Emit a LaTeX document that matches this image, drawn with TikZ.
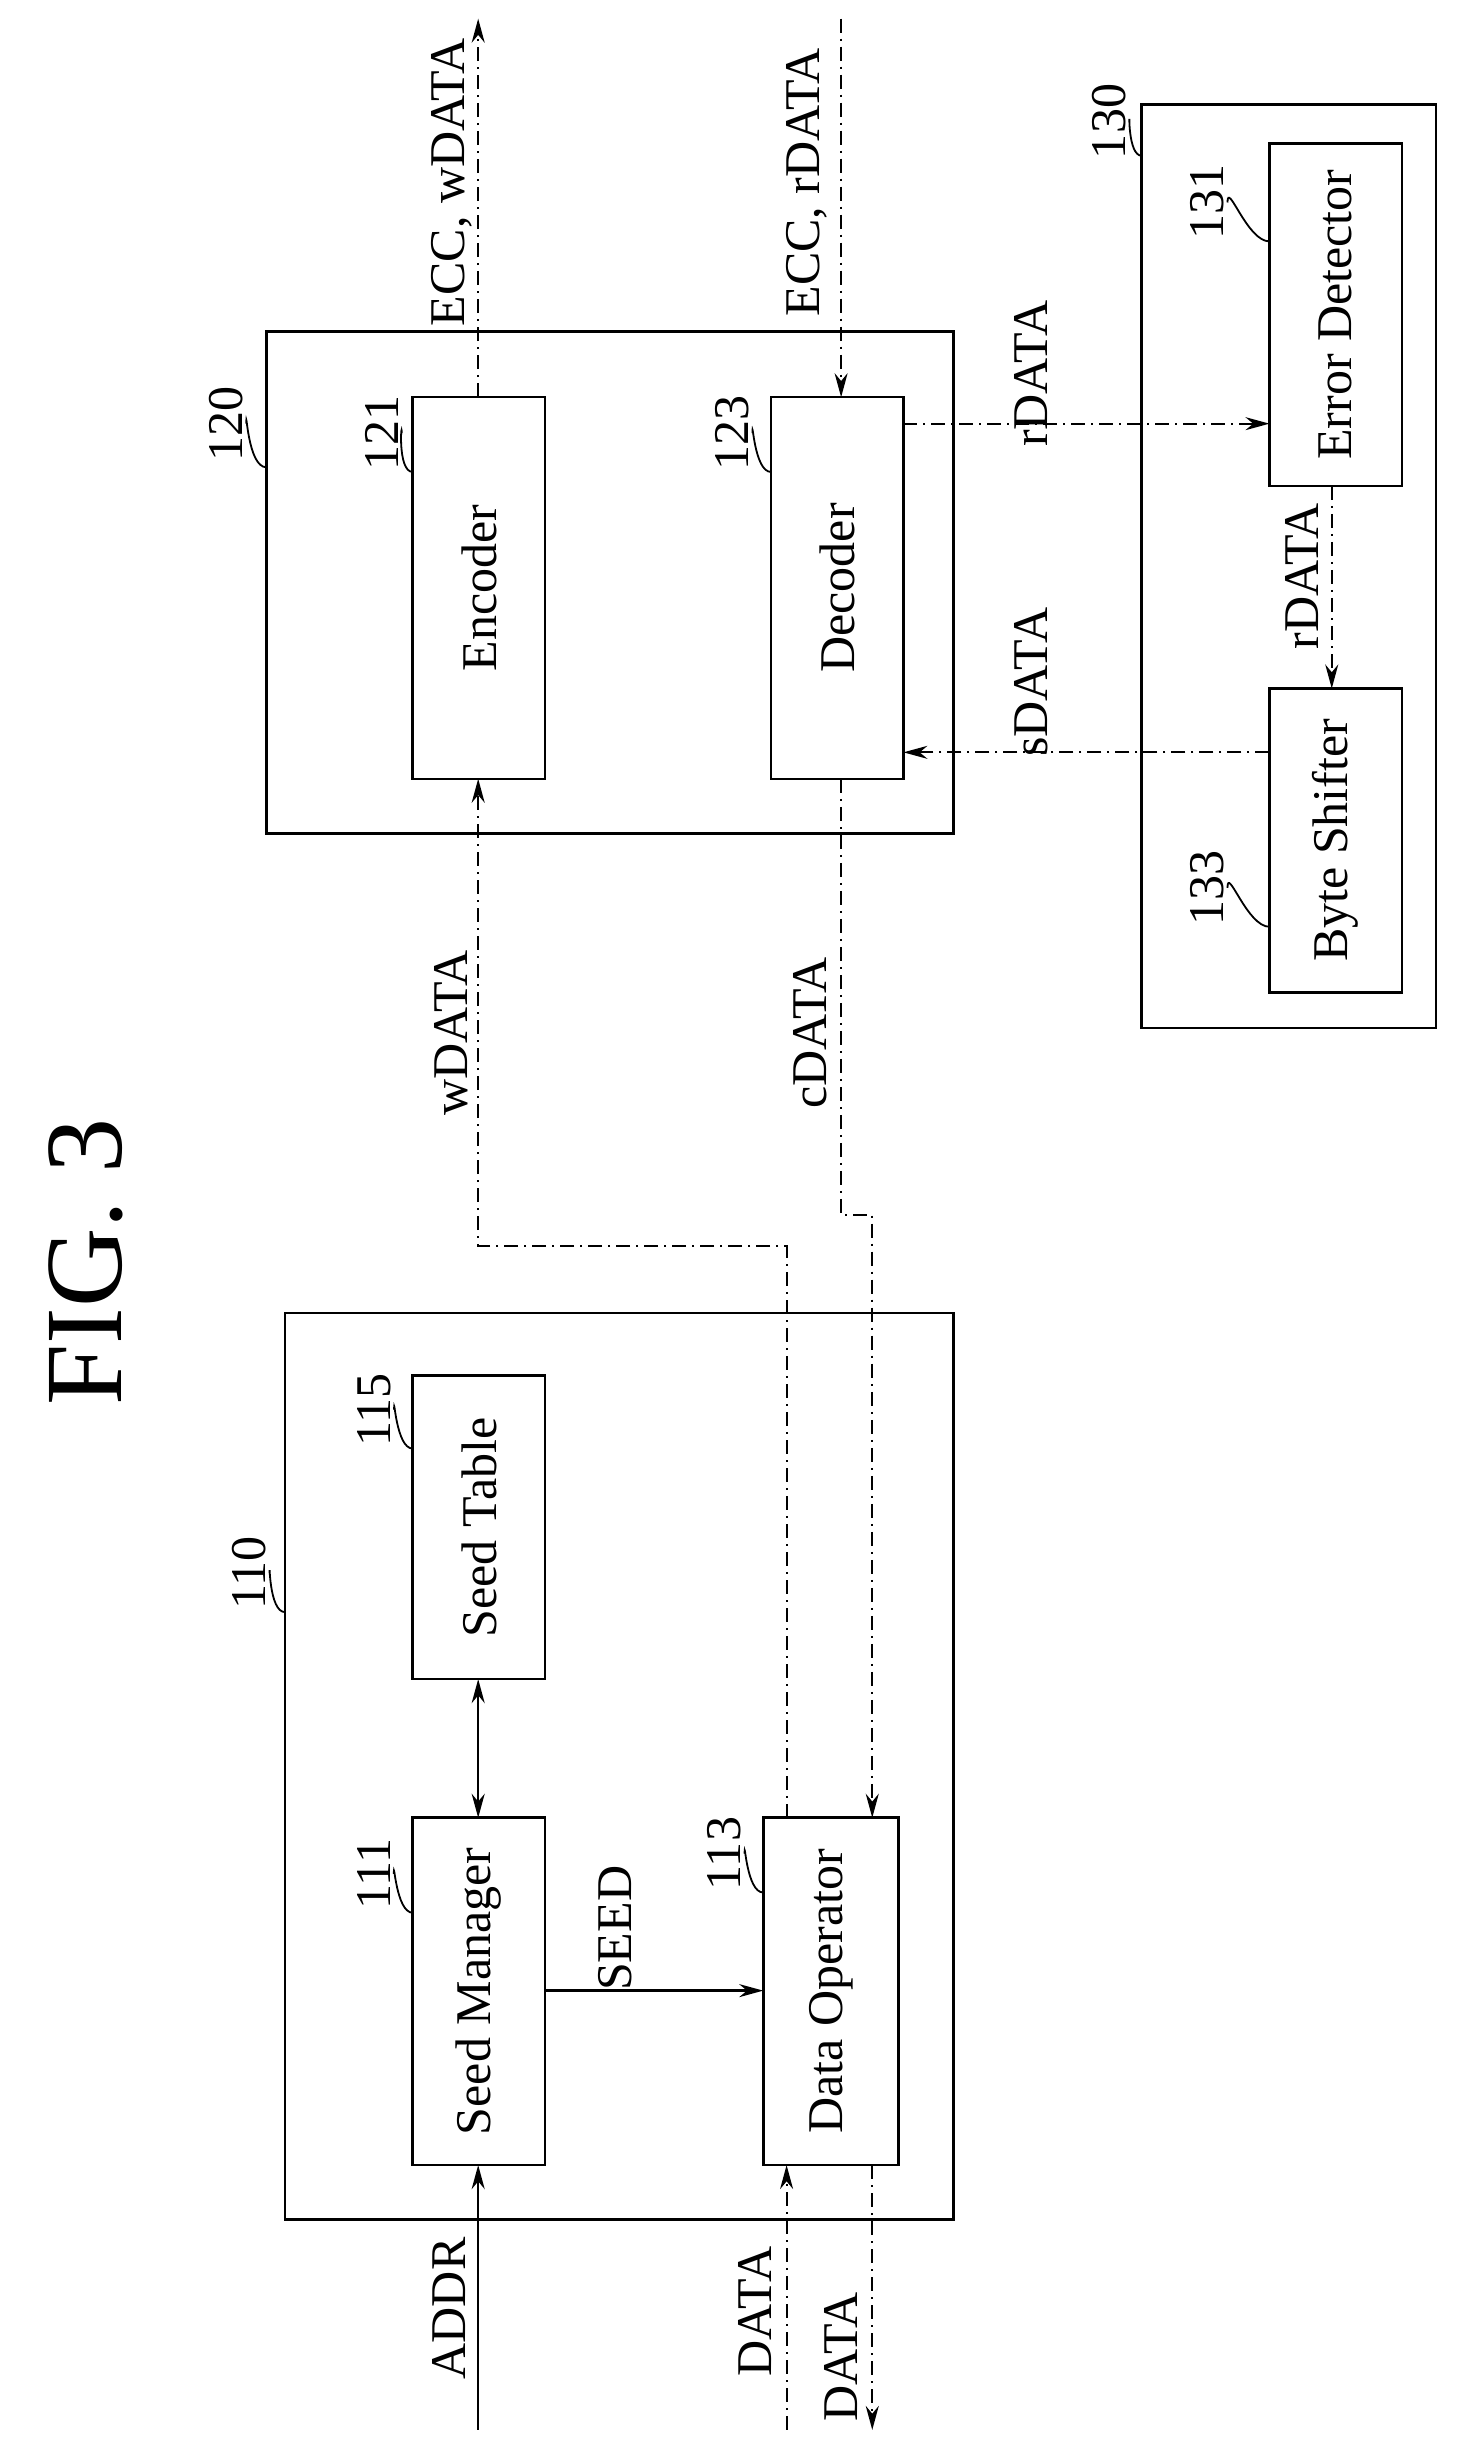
\documentclass[tikz,border=0pt]{standalone}
\usepackage{fontspec}
\setmainfont{Liberation Serif}
\usetikzlibrary{arrows.meta}
\begin{document}
\begin{tikzpicture}[x=1.5574pt,y=-1.5574pt,
  box/.style={draw,line width=2.6pt},
  txt/.style={rotate=90,font=\fontsize{50}{50}\selectfont},
  ref/.style={rotate=90,font=\fontsize{50}{50}\selectfont},
  dd/.style={line width=2pt,dash pattern=on 14pt off 6pt on 2pt off 6pt},
  sl/.style={line width=2.4pt},
  tip/.style={-{Stealth[length=24pt,width=13pt]}},
  lead/.style={line width=1.8pt}]
\useasboundingbox (0,0) rectangle (940,1571);
\node[rotate=90,font=\fontsize{110}{110}\selectfont] (fig) at (55,810) {FIG. 3};
% boxes
\draw[box] (183,843) rectangle (612,1425); \coordinate (b110) at (183,1035);
\draw[box] (171,213) rectangle (612,535); \coordinate (b120) at (171,300);
\draw[box] (733,67) rectangle (922,660); \coordinate (b130) at (733,100);
\node[box,minimum width=85*1.5574pt,minimum height=195*1.5574pt,inner sep=0] (st) at (307.5,980.5) {};
\node[txt] at (st) {Seed Table};
\node[box,minimum width=85*1.5574pt,minimum height=223*1.5574pt,inner sep=0] (sm) at (307.5,1278.5) {};
\node[txt] at (sm) {Seed Manager};
\node[box,minimum width=87*1.5574pt,minimum height=223*1.5574pt,inner sep=0] (do) at (533.5,1278.5) {};
\node[txt] at (do) {Data Operator};
\node[box,minimum width=85*1.5574pt,minimum height=245*1.5574pt,inner sep=0] (enc) at (307.5,377.5) {};
\node[txt] at (enc) {Encoder};
\node[box,minimum width=85*1.5574pt,minimum height=245*1.5574pt,inner sep=0] (dec) at (537.5,377.5) {};
\node[txt] at (dec) {Decoder};
\node[box,minimum width=85*1.5574pt,minimum height=220*1.5574pt,inner sep=0] (ed) at (857.5,202) {};
\node[txt] at (ed) {Error Detector};
\node[box,minimum width=85*1.5574pt,minimum height=195*1.5574pt,inner sep=0] (bs) at (857.5,539.5) {};
\node[txt] at (bs) {Byte Shifter};
% coordinates
\coordinate (addr) at (307,1560);
\coordinate (din) at (505,1560);
\coordinate (dout) at (560,1560);
\coordinate (eccw) at (307,12);
\coordinate (eccr) at (540,12);
% connectors
\draw[sl,tip] (addr) -- (307,1390);
\draw[sl,{Stealth[length=24pt,width=13pt]}-{Stealth[length=24pt,width=13pt]}] (307,1078) -- (307,1167);
\draw[sl,tip] (350,1278) -- (490,1278);
\draw[dd,tip] (din) -- (505,1390);
\draw[dd,tip] (560,1390) -- (dout);
\draw[dd,tip] (505,1167) -- (505,800) -- (307,800) -- (307,500);
\draw[dd,tip] (540,500) -- (540,780) -- (560,780) -- (560,1167);
\draw[dd,tip] (307,255) -- (eccw);
\draw[dd,tip] (eccr) -- (540,255);
\draw[dd,tip] (580,272) -- (815,272);
\draw[dd,tip] (855,312) -- (855,442);
\draw[dd,tip] (815,483) -- (580,483);
% labels
\node[txt] at (288,1482) {ADDR};
\node[txt] at (395,1238) {SEED};
\node[txt] at (485,1484) {DATA};
\node[txt] at (540,1513) {DATA};
\node[txt] at (290,663) {wDATA};
\node[txt] at (520,663) {cDATA};
\node[txt] at (290,117) {ECC, wDATA};
\node[txt] at (518,117) {ECC, rDATA};
\node[txt] at (662,240) {rDATA};
\node[txt] at (836,370) {rDATA};
\node[txt] at (662,438) {sDATA};
% reference numerals
\node[ref] (n110) at (160,1010) {110};
\node[ref] (n111) at (240,1203) {111};
\node[ref] (n113) at (465,1190) {113};
\node[ref] (n115) at (240,905) {115};
\node[ref] (n120) at (145,272) {120};
\node[ref] (n121) at (245,278) {121};
\node[ref] (n123) at (470,278) {123};
\node[ref] (n130) at (712,78) {130};
\node[ref] (n131) at (775,130) {131};
\node[ref] (n133) at (775,570) {133};
\foreach \n/\t in {110/b110,120/b120,130/b130}
  \draw[lead] (n\n.south) to[out=90,in=180] (\t);
\draw[lead] (n111.south) to[out=90,in=180] (265,1228);
\draw[lead] (n113.south) to[out=90,in=180] (490,1215);
\draw[lead] (n115.south) to[out=90,in=180] (265,930);
\draw[lead] (n121.south) to[out=90,in=180] (265,303);
\draw[lead] (n123.south) to[out=90,in=180] (495,303);
\draw[lead] (n131.south) to[out=90,in=180] (815,155);
\draw[lead] (n133.south) to[out=90,in=180] (815,595);
\end{tikzpicture}
\end{document}
